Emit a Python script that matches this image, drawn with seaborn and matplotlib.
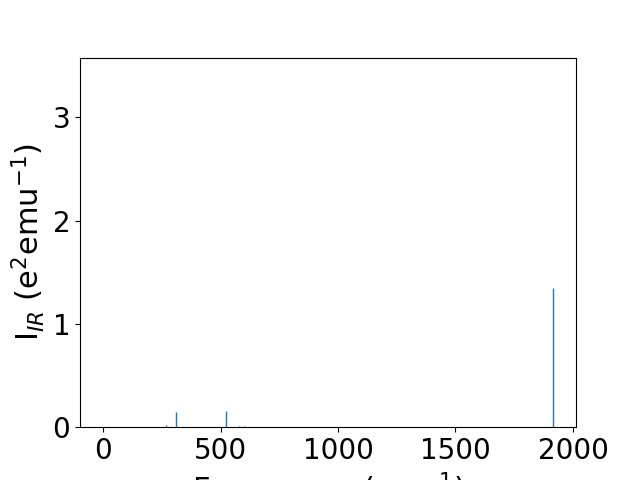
import matplotlib
matplotlib.use("Agg")
import matplotlib.pyplot as plt
import seaborn as sns
import pandas as pd

freq = [270, 312, 525, 580, 600, 1915]
intensity = [0.02, 0.145, 0.155, 0.01, 0.01, 1.35]

df = pd.DataFrame({"freq": freq, "intensity": intensity})
color = sns.color_palette()[0]

fig, ax = plt.subplots(figsize=(6.4, 4.8), dpi=100)
ax.vlines(df["freq"], 0, df["intensity"], color=color, linewidth=1)
ax.set_xlim(-98, 2013)
ax.set_ylim(0, 3.58)
ax.set_xticks([0, 500, 1000, 1500, 2000])
ax.set_yticks([0, 1, 2, 3])
ax.tick_params(labelsize=20)
ax.set_xlabel("Frequency (cm$^{-1}$)", fontsize=22)
ax.set_ylabel("I$_{IR}$ (e$^2$emu$^{-1}$)", fontsize=22)
fig.savefig("out.png", dpi=100)
